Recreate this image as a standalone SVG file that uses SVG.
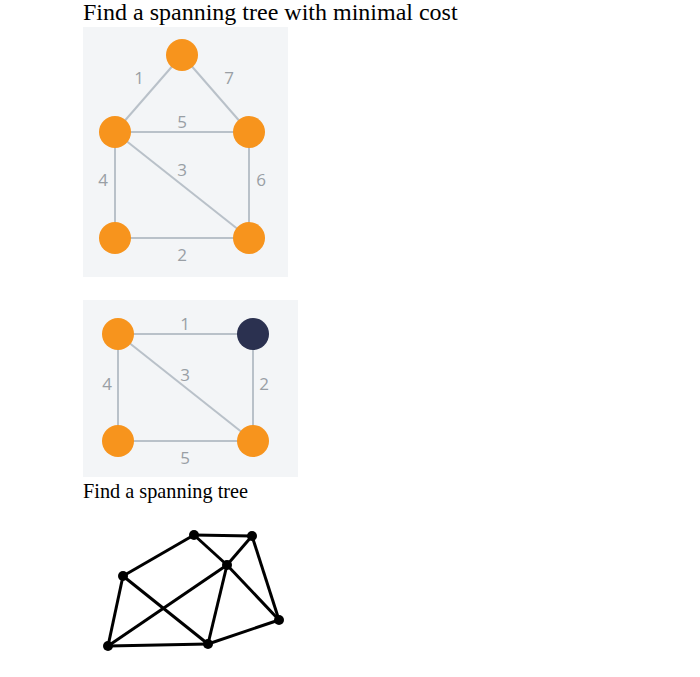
<svg xmlns="http://www.w3.org/2000/svg" width="700" height="677" viewBox="0 0 700 677">
<style>
.title{font-family:"Liberation Serif","Times New Roman",serif;fill:#000}
.bg{fill:#f3f5f7}
.ge{stroke:#b9c1c9;stroke-width:2;fill:none}
.on{fill:#f7941d}
.dn{fill:#2b3150}
.lbl{font-family:"Open Sans","Liberation Sans",sans-serif;font-size:17px;fill:#999fa5;text-anchor:middle}
.be{stroke:#000;stroke-width:3;fill:none}
.bn{fill:#000}
</style>
<rect width="700" height="677" fill="#fff"/>
<text class="title" x="83" y="20" font-size="24">Find a spanning tree with minimal cost</text>
<text class="title" x="83" y="498" font-size="20.3">Find a spanning tree</text>

<g id="graph1">
<rect class="bg" x="83" y="27" width="205" height="250"/>
<g id="g1-edges">
<line class="ge" x1="182" y1="55" x2="115" y2="132"/>
<line class="ge" x1="182" y1="55" x2="249" y2="132"/>
<line class="ge" x1="115" y1="132" x2="249" y2="132"/>
<line class="ge" x1="115" y1="132" x2="249" y2="238"/>
<line class="ge" x1="115" y1="132" x2="115" y2="238"/>
<line class="ge" x1="249" y1="132" x2="249" y2="238"/>
<line class="ge" x1="115" y1="238" x2="249" y2="238"/>
</g>
<g id="g1-n1"><circle class="on" cx="182" cy="55" r="16"/></g>
<g id="g1-n2"><circle class="on" cx="115" cy="132" r="16"/></g>
<g id="g1-n3"><circle class="on" cx="249" cy="132" r="16"/></g>
<g id="g1-n4"><circle class="on" cx="115" cy="238" r="16"/></g>
<g id="g1-n5"><circle class="on" cx="249" cy="238" r="16"/></g>
<g id="g1-labels">
<text class="lbl" x="139" y="84">1</text>
<text class="lbl" x="229" y="84">7</text>
<text class="lbl" x="182" y="128">5</text>
<text class="lbl" x="182" y="176">3</text>
<text class="lbl" x="103" y="186">4</text>
<text class="lbl" x="261" y="186">6</text>
<text class="lbl" x="182" y="261">2</text>
</g>
</g>

<g id="graph2">
<rect class="bg" x="83" y="300" width="215" height="177"/>
<g id="g2-edges">
<line class="ge" x1="118" y1="334" x2="253" y2="334"/>
<line class="ge" x1="118" y1="334" x2="253" y2="441"/>
<line class="ge" x1="118" y1="334" x2="118" y2="441"/>
<line class="ge" x1="253" y1="334" x2="253" y2="441"/>
<line class="ge" x1="118" y1="441" x2="253" y2="441"/>
</g>
<g id="g2-n1"><circle class="on" cx="118" cy="334" r="16"/></g>
<g id="g2-n2"><circle class="dn" cx="253" cy="334" r="16"/></g>
<g id="g2-n3"><circle class="on" cx="118" cy="441" r="16"/></g>
<g id="g2-n4"><circle class="on" cx="253" cy="441" r="16"/></g>
<g id="g2-labels">
<text class="lbl" x="185" y="330">1</text>
<text class="lbl" x="185" y="381">3</text>
<text class="lbl" x="107" y="390">4</text>
<text class="lbl" x="264" y="390">2</text>
<text class="lbl" x="185" y="464">5</text>
</g>
</g>

<g id="graph3">
<g id="g3-edges">
<line class="be" x1="194" y1="535" x2="252" y2="536"/>
<line class="be" x1="194" y1="535" x2="123" y2="576"/>
<line class="be" x1="194" y1="535" x2="227" y2="565"/>
<line class="be" x1="252" y1="536" x2="227" y2="565"/>
<line class="be" x1="252" y1="536" x2="279" y2="620"/>
<line class="be" x1="227" y1="565" x2="108" y2="646"/>
<line class="be" x1="227" y1="565" x2="208" y2="644"/>
<line class="be" x1="227" y1="565" x2="279" y2="620"/>
<line class="be" x1="123" y1="576" x2="108" y2="646"/>
<line class="be" x1="123" y1="576" x2="208" y2="644"/>
<line class="be" x1="108" y1="646" x2="208" y2="644"/>
<line class="be" x1="208" y1="644" x2="279" y2="620"/>
</g>
<g id="g3-nA"><circle class="bn" cx="194" cy="535" r="5"/></g>
<g id="g3-nB"><circle class="bn" cx="252" cy="536" r="5"/></g>
<g id="g3-nC"><circle class="bn" cx="227" cy="565" r="5"/></g>
<g id="g3-nD"><circle class="bn" cx="123" cy="576" r="5"/></g>
<g id="g3-nE"><circle class="bn" cx="108" cy="646" r="5"/></g>
<g id="g3-nF"><circle class="bn" cx="208" cy="644" r="5"/></g>
<g id="g3-nG"><circle class="bn" cx="279" cy="620" r="5"/></g>
</g>
</svg>
